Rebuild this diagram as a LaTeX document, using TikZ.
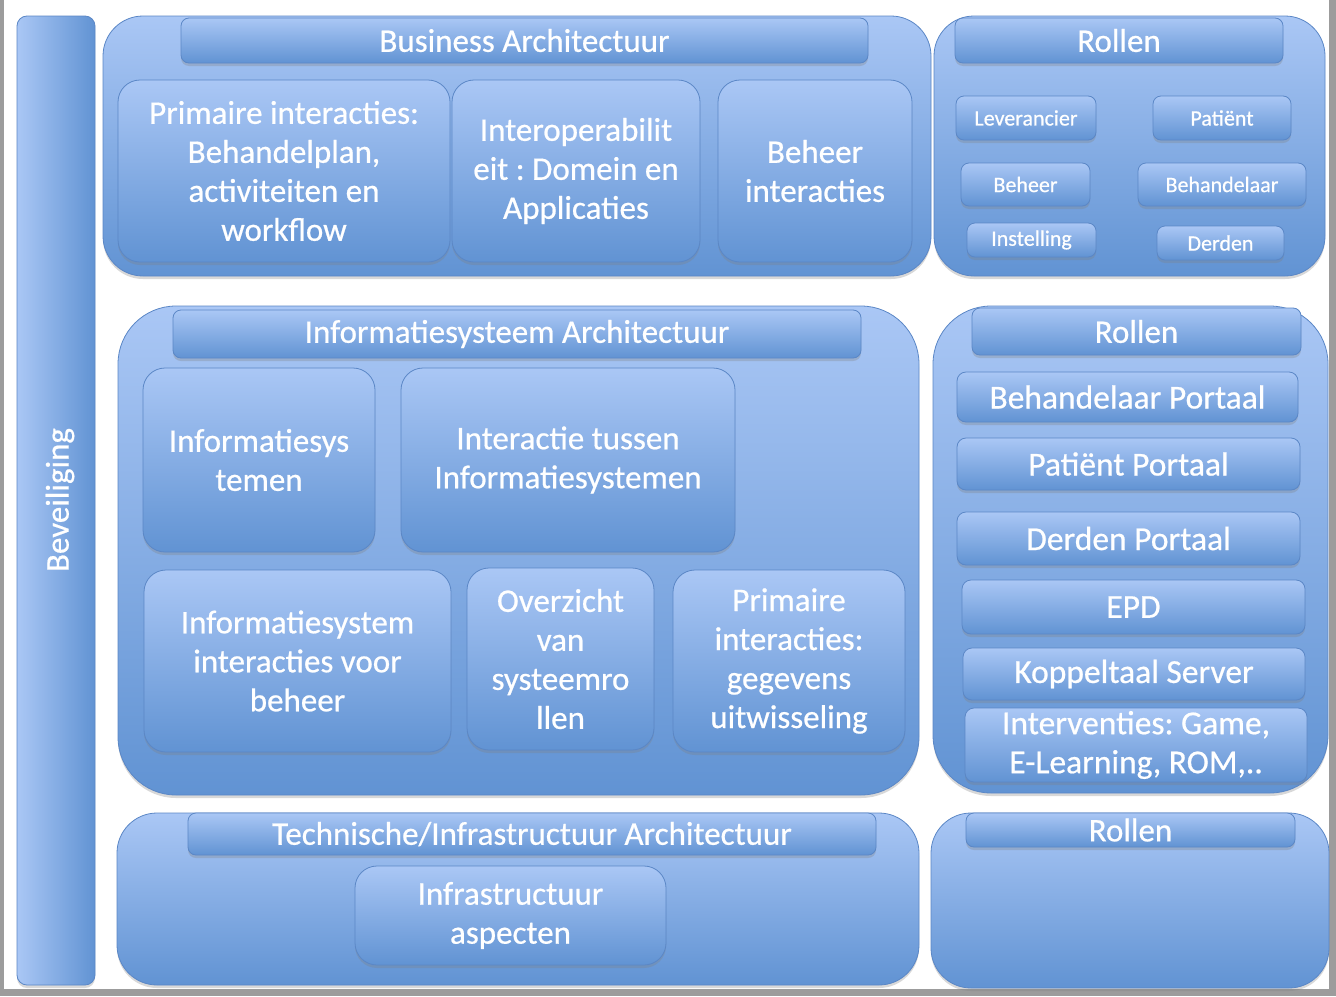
\documentclass[tikz,border=0pt]{standalone}
\usepackage{fontspec}
\setmainfont{Carlito}
\newfontfamily\boxfont[FakeBold=0.6]{Carlito}
\frenchspacing
\usetikzlibrary{shadows}
\definecolor{ctop}{HTML}{AAC7F5}
\definecolor{cbot}{HTML}{6193D3}
\definecolor{cedge}{HTML}{5B87C6}
\definecolor{grayedge}{HTML}{9C9C9C}
\tikzset{
  basebox/.style={draw=cedge, line width=0.8pt, top color=ctop, bottom color=cbot,
    drop shadow={opacity=0.30, shadow xshift=0pt, shadow yshift=-3pt},
    inner sep=0pt, outer sep=0pt, text=white, align=center},
  frame/.style={basebox, rounded corners=40pt},
  bigframe/.style={basebox, rounded corners=58pt},
  titlebar/.style={basebox, rounded corners=8pt, font=\boxfont\frenchspacing\fontsize{33}{38}\selectfont},
  panel/.style={basebox, rounded corners=22pt, font=\boxfont\frenchspacing\fontsize{33}{39}\selectfont},
  portal/.style={basebox, rounded corners=9pt, font=\boxfont\frenchspacing\fontsize{33.5}{39}\selectfont},
  rolebox/.style={basebox, rounded corners=8pt, font=\boxfont\fontsize{22}{26}\selectfont},
}
\newcommand\boxat[7]{\node[#6, minimum width={#4-#2}, minimum height={#5-#3}] (#1) at ({(#2+#4)/2},{(#3+#5)/2}) {#7};}
\begin{document}
\begin{tikzpicture}[x=1pt,y=-1pt]
\useasboundingbox (0,0) rectangle (1336,996);
\fill[grayedge] (0,0) rectangle (1336,996);
\fill[white] (4,0) rectangle (1329,989);

% Beveiliging
\node[draw=cedge, line width=0.8pt, left color=ctop, right color=cbot, rounded corners=10pt,
  drop shadow={opacity=0.30, shadow xshift=0pt, shadow yshift=-3pt},
  minimum width=78, minimum height=969, inner sep=0pt] (bev) at (56,500.5) {};
\node[rotate=90, text=white, font=\boxfont\fontsize{33}{38}\selectfont] (bevtxt) at (60,500) {Beveiliging};

% Business
\boxat{bus}{103}{16}{931}{276}{frame}{}
\boxat{bustitle}{181}{18}{868}{63}{titlebar}{Business Architectuur}
\boxat{bus1}{118}{80}{450}{262}{panel}{Primaire interacties:\\Behandelplan,\\activiteiten en\\workflow}
\boxat{bus2}{452}{80}{700}{262}{panel}{Interoperabilit\\eit : Domein en\\Applicaties}
\boxat{bus3}{718}{80}{912}{262}{panel}{Beheer\\interacties}

% Rollen top
\boxat{rol1}{934}{16}{1325}{276}{frame}{}
\boxat{rol1title}{955}{18}{1283}{63}{titlebar}{Rollen}
\boxat{lev}{956}{96}{1096}{140}{rolebox}{Leverancier}
\boxat{pat}{1153}{96}{1291}{140}{rolebox}{Patiënt}
\boxat{beh}{961}{163}{1090}{206}{rolebox}{Beheer}
\boxat{bhl}{1138}{163}{1306}{206}{rolebox}{Behandelaar}
\boxat{ins}{967}{223}{1096}{257}{rolebox}{Instelling}
\boxat{der}{1157}{226}{1284}{260}{rolebox}{Derden}

% Informatiesysteem
\boxat{inf}{118}{306}{919}{795}{bigframe}{}
\boxat{inftitle}{173}{310}{861}{358}{titlebar}{Informatiesysteem Architectuur}
\boxat{inf1}{143}{368}{375}{552}{panel}{Informatiesys\\temen}
\boxat{inf2}{401}{368}{735}{552}{panel}{Interactie tussen\\Informatiesystemen}
\boxat{inf3}{144}{570}{451}{752}{panel}{Informatiesystem\\interacties voor\\beheer}
\boxat{inf4}{467}{568}{654}{750}{panel}{Overzicht\\van\\systeemro\\llen}
\boxat{inf5}{673}{570}{905}{752}{panel}{Primaire\\interacties:\\gegevens\\uitwisseling}

% Rollen middle
\boxat{rol2}{933}{306}{1328}{793}{bigframe}{}
\boxat{rol2title}{972}{308}{1301}{355}{titlebar}{Rollen}
\boxat{bp}{957}{372}{1298}{422}{portal}{Behandelaar Portaal}
\boxat{pp}{957}{438}{1300}{490}{portal}{Patiënt Portaal}
\boxat{dp}{957}{512}{1300}{565}{portal}{Derden Portaal}
\boxat{epd}{962}{580}{1305}{634}{portal}{EPD}
\boxat{kop}{963}{648}{1305}{700}{portal}{Koppeltaal Server}
\boxat{intv}{965}{708}{1307}{782}{portal}{Interventies: Game,\\E-Learning, ROM,..}

% Technische
\boxat{tech}{117}{813}{919}{985}{frame}{}
\boxat{techtitle}{188}{813}{876}{855}{titlebar}{Technische/Infrastructuur Architectuur}
\boxat{infra}{355}{866}{666}{965}{panel}{Infrastructuur\\aspecten}

% Rollen bottom
\boxat{rol3}{931}{813}{1329}{988}{frame}{}
\boxat{rol3title}{966}{813}{1295}{847}{titlebar}{Rollen}
\end{tikzpicture}
\end{document}
